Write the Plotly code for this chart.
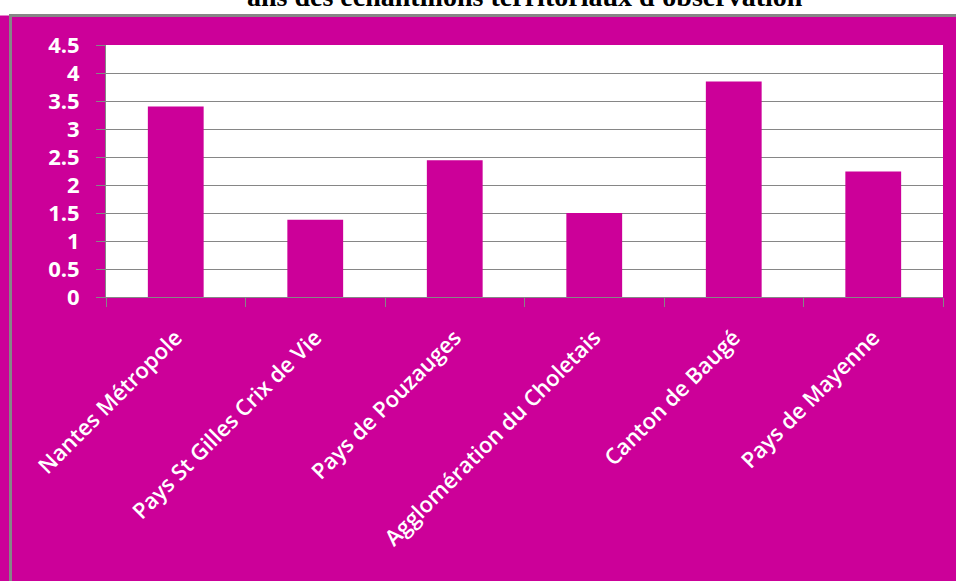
import plotly.graph_objects as go

# données
territoires = [
    "Nantes Métropole",
    "Pays St Gilles Crix de Vie",
    "Pays de Pouzauges",
    "Agglomération du Choletais",
    "Canton de Baugé",
    "Pays de Mayenne",
]
valeurs = [3.40, 1.38, 2.44, 1.50, 3.85, 2.24]

titre = "ans des échantillons territoriaux d'observation"

W, H = 956, 581
ML, MR, MT, MB = 106, 13, 45, 284
MAGENTA = "#CC0099"
GRIS = "#868686"


# conversion pixels -> coordonnées paper
def px_x(px):
    return (px - ML) / (W - ML - MR)


def px_y(py):
    return (H - MB - py) / (H - MT - MB)


fig = go.Figure()
fig.add_trace(
    go.Bar(
        x=territoires,
        y=valeurs,
        marker=dict(color=MAGENTA, line=dict(width=0)),
        width=0.4,
        hoverinfo="x+y",
    )
)

# bandeau blanc au-dessus du cadre + bordures grises
fig.add_shape(type="rect", xref="paper", yref="paper",
              x0=px_x(0), x1=px_x(W), y0=px_y(15.5), y1=px_y(-5),
              fillcolor="white", line=dict(width=0), layer="below")
fig.add_shape(type="line", xref="paper", yref="paper",
              x0=px_x(9), x1=px_x(W + 5), y0=px_y(15.5), y1=px_y(15.5),
              line=dict(color=GRIS, width=3), layer="below")
fig.add_shape(type="line", xref="paper", yref="paper",
              x0=px_x(10.5), x1=px_x(10.5), y0=px_y(14), y1=px_y(H + 5),
              line=dict(color=GRIS, width=3), layer="below")

# titre coupé en haut, comme sur l'original
fig.add_annotation(
    text="<b>" + titre + "</b>",
    xref="paper", yref="paper",
    x=0.5, y=px_y(14), xanchor="center", yanchor="bottom",
    showarrow=False,
    font=dict(family="Liberation Serif", size=28, color="black"),
)

fig.update_layout(
    width=W,
    height=H,
    margin=dict(l=ML, r=MR, t=MT, b=MB),
    paper_bgcolor=MAGENTA,
    plot_bgcolor="white",
    showlegend=False,
    bargap=0.6,
)
fig.update_xaxes(
    tickangle=-45,
    tickson="boundaries",
    ticks="outside",
    ticklen=9,
    tickcolor=GRIS,
    showline=True,
    linecolor=GRIS,
    linewidth=1,
    showgrid=False,
    ticklabelstandoff=18,
    tickfont=dict(family="Open Sans", size=22, color="white", weight=600),
)
fig.update_yaxes(
    range=[0, 4.5],
    dtick=0.5,
    ticks="outside",
    ticklen=9,
    tickcolor=GRIS,
    showline=True,
    linecolor=GRIS,
    linewidth=1,
    gridcolor=GRIS,
    gridwidth=1,
    zeroline=False,
    ticklabelstandoff=12,
    tickfont=dict(family="Open Sans", size=22, color="white", weight="bold"),
)

fig.write_html(
    "out.html",
    config={"displayModeBar": False},
    post_script="document.body.style.margin='0';",
)
